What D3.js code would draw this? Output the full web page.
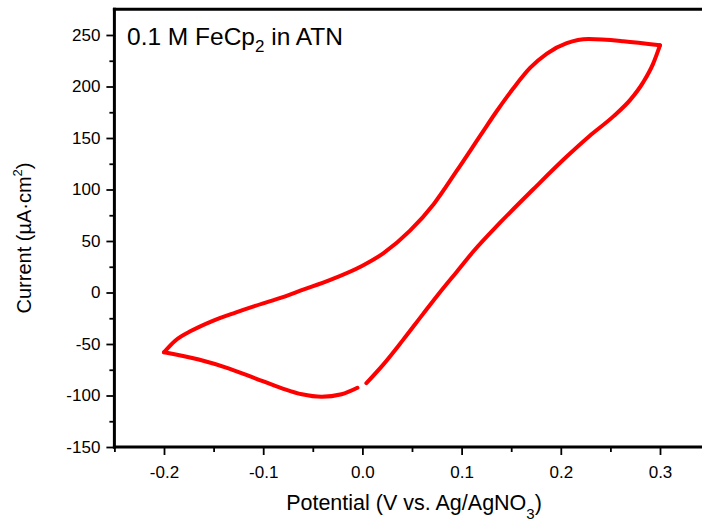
<!DOCTYPE html>
<html><head><meta charset="utf-8">
<script src="https://cdn.jsdelivr.net/npm/d3@7"></script>
<style>
html,body{margin:0;padding:0;background:#fff;}
svg{display:block;font-family:"Liberation Sans",Arial,sans-serif;}
</style></head>
<body><svg id="c" width="702" height="523"></svg>
<script>
// Cyclic voltammogram trace (V vs. Ag/AgNO3, µA·cm^-2), in scan order
const potential = [0.004, 0.021, 0.041, 0.061, 0.078, 0.095, 0.112, 0.139, 0.172, 0.206, 0.229, 0.253, 0.270, 0.283, 0.293, 0.300,
  0.263, 0.228, 0.206, 0.186, 0.169, 0.152, 0.135, 0.120, 0.095, 0.072, 0.048, 0.021, 0.000,
  -0.033, -0.059, -0.085, -0.108, -0.128, -0.152, -0.172, -0.189, -0.200,
  -0.165, -0.135, -0.108, -0.081, -0.061, -0.041, -0.021, -0.005];
const current = [-88, -70, -46, -21, 0, 20, 40, 68, 100, 132, 152, 171, 187, 204, 222, 240,
  244, 246, 242, 232, 218, 198, 175.5, 154, 118, 86, 60, 38, 26,
  12, 3, -6, -13, -19.5, -28, -37, -47, -58,
  -65, -73.6, -83.3, -93, -98.8, -101.2, -98.8, -92.5];

const xMajor = [-0.2, -0.1, 0.0, 0.1, 0.2, 0.3];
const xMinor = [-0.25, -0.15, -0.05, 0.05, 0.15, 0.25];
const yMajor = [-150, -100, -50, 0, 50, 100, 150, 200, 250];
const yMinor = [-125, -75, -25, 25, 75, 125, 175, 225];

const svg = d3.select("#c");
const m = {left: 114.4, top: 9.25};
const W = 595.2, H = 437.75;
const x = d3.scaleLinear().domain([-0.25, 0.35]).range([m.left, m.left + W]);
const y = d3.scaleLinear().domain([-150, 275]).range([m.top + H, m.top]);

// split the trace at the switching potentials so each sweep is monotone in x
const pts = potential.map((p, i) => [p, current[i]]);
const segs = [];
let cur = [pts[0]];
for (let i = 1; i < pts.length; i++) {
  cur.push(pts[i]);
  if (i < pts.length - 1) {
    const d1 = pts[i][0] - pts[i-1][0], d2 = pts[i+1][0] - pts[i][0];
    if (d1 * d2 < 0) { segs.push(cur); cur = [pts[i]]; }
  }
}
segs.push(cur);
const line = d3.line().x(d => x(d[0])).y(d => y(d[1])).curve(d3.curveMonotoneX);
segs.forEach(s => {
  const sorted = s.slice().sort((a, b) => a[0] - b[0]);
  svg.append("path").datum(sorted).attr("d", line)
    .attr("fill", "none").attr("stroke", "#ff0000").attr("stroke-width", 4)
    .attr("stroke-linejoin", "round").attr("stroke-linecap", "round");
});

// axes
function styleAxis(g){ g.select(".domain").remove(); g.selectAll("line").attr("stroke","#000").attr("stroke-width",1.8); }

const fmtX = d => d.toFixed(1);
svg.append("g").attr("transform", `translate(0,${y(-150)})`)
  .call(d3.axisBottom(x).tickValues(xMajor).tickSize(8).tickPadding(11).tickFormat(fmtX))
  .call(styleAxis).selectAll("text").attr("font-size", 17).attr("font-family","Liberation Sans, Arial").attr("fill","#000");
svg.append("g").attr("transform", `translate(0,${y(-150)})`)
  .call(d3.axisBottom(x).tickValues(xMinor).tickSize(5).tickFormat(""))
  .call(styleAxis);

svg.append("g").attr("transform", `translate(${x(-0.25)},0)`)
  .call(d3.axisLeft(y).tickValues(yMajor).tickSize(8).tickPadding(6).tickFormat(d => String(d)))
  .call(styleAxis).selectAll("text").attr("font-size", 17).attr("font-family","Liberation Sans, Arial").attr("fill","#000");
svg.append("g").attr("transform", `translate(${x(-0.25)},0)`)
  .call(d3.axisLeft(y).tickValues(yMinor).tickSize(5).tickFormat(""))
  .call(styleAxis);

// frame lines
svg.append("line").attr("x1", x(-0.25)).attr("x2", x(-0.25)).attr("y1", y(275)-1.5).attr("y2", y(-150)+1.5)
  .attr("stroke","#000").attr("stroke-width",3);
svg.append("line").attr("x1", x(-0.25)-1.5).attr("x2", x(0.35)).attr("y1", y(-150)).attr("y2", y(-150))
  .attr("stroke","#000").attr("stroke-width",3);
svg.append("line").attr("x1", x(-0.25)-1.5).attr("x2", x(0.35)).attr("y1", y(275)).attr("y2", y(275))
  .attr("stroke","#000").attr("stroke-width",3);
svg.append("line").attr("x1", x(0.35)).attr("x2", x(0.35)).attr("y1", y(275)).attr("y2", y(-150))
  .attr("stroke","#000").attr("stroke-width",3);

// axis titles
const xt = svg.append("text").attr("x", 414).attr("y", 510).attr("text-anchor","middle")
  .attr("font-size", 21.5).attr("fill","#000");
xt.append("tspan").text("Potential (V vs. Ag/AgNO");
xt.append("tspan").attr("font-size", 15).attr("dy", 9).text("3");
xt.append("tspan").attr("dy", -9).text(")");

const yt = svg.append("text").attr("transform","translate(31,238) rotate(-90)").attr("text-anchor","middle")
  .attr("font-size", 20).attr("fill","#000");
yt.append("tspan").text("Current (µA·cm");
yt.append("tspan").attr("font-size", 13).attr("dy", -9).text("2");
yt.append("tspan").attr("dy", 9).text(")");

// annotation
const an = svg.append("text").attr("x", 127).attr("y", 45).attr("font-size", 24.5).attr("fill","#000");
an.append("tspan").text("0.1 M FeCp");
an.append("tspan").attr("font-size", 17).attr("dy", 7).text("2");
an.append("tspan").attr("dy", -7).text(" in ATN");
</script></body></html>
